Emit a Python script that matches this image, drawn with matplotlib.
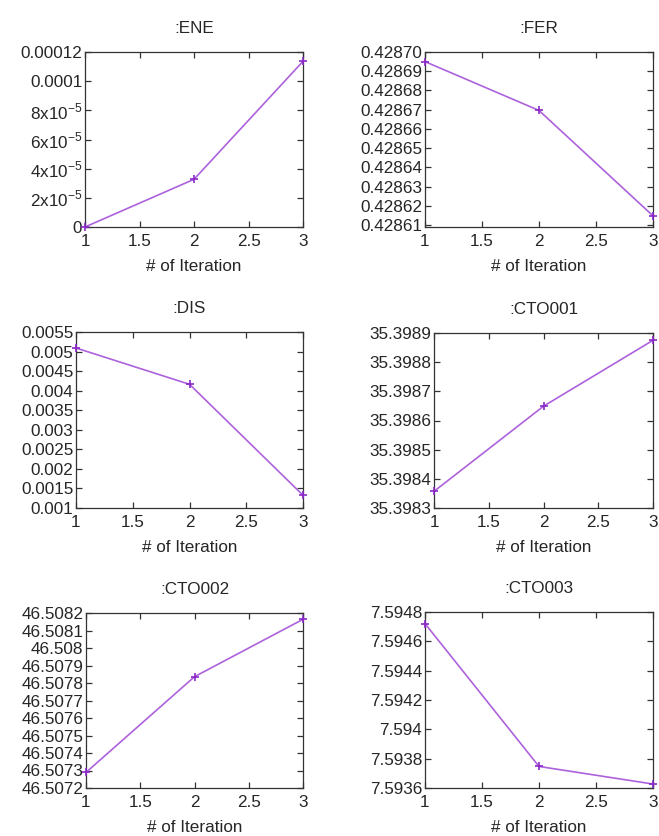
import matplotlib
matplotlib.use("Agg")
import matplotlib.pyplot as plt
from matplotlib.ticker import FixedLocator, FixedFormatter

plt.rcParams['font.family'] = ['Liberation Sans', 'DejaVu Sans']
plt.rcParams['mathtext.fontset'] = 'custom'
plt.rcParams['mathtext.rm'] = 'Liberation Sans'

iterations = [1, 2, 3]

titles = [":ENE", ":FER", ":DIS", ":CTO001", ":CTO002", ":CTO003"]

ene = [0.0, 3.27e-5, 1.136e-4]
fer = [0.428695, 0.4286696, 0.4286148]
dis = [0.005091, 0.004163, 0.001326]
cto001 = [35.398357, 35.398649, 35.398875]
cto002 = [46.507289, 46.507836, 46.508164]
cto003 = [7.594721, 7.593747, 7.593627]

ene_ticks = [0.0, 2e-5, 4e-5, 6e-5, 8e-5, 1e-4, 1.2e-4]
ene_labels = ["0", r"2x10$^{-5}$", r"4x10$^{-5}$", r"6x10$^{-5}$",
              r"8x10$^{-5}$", "0.0001", "0.00012"]
fer_ticks = [0.42861, 0.42862, 0.42863, 0.42864, 0.42865,
             0.42866, 0.42867, 0.42868, 0.42869, 0.42870]
fer_labels = ["%.5f" % v for v in fer_ticks]
dis_ticks = [0.001, 0.0015, 0.002, 0.0025, 0.003, 0.0035,
             0.004, 0.0045, 0.005, 0.0055]
dis_labels = ["%g" % v for v in dis_ticks]
cto001_ticks = [35.3983, 35.3984, 35.3985, 35.3986, 35.3987, 35.3988, 35.3989]
cto001_labels = ["%g" % v for v in cto001_ticks]
cto002_ticks = [46.5072, 46.5073, 46.5074, 46.5075, 46.5076, 46.5077,
                46.5078, 46.5079, 46.5080, 46.5081, 46.5082]
cto002_labels = ["%g" % v for v in cto002_ticks]
cto003_ticks = [7.5936, 7.5938, 7.5940, 7.5942, 7.5944, 7.5946, 7.5948]
cto003_labels = ["%g" % v for v in cto003_ticks]

x_ticks = [1, 1.5, 2, 2.5, 3]
x_labels = ["1", "1.5", "2", "2.5", "3"]

series = [ene, fer, dis, cto001, cto002, cto003]
yticks = [ene_ticks, fer_ticks, dis_ticks, cto001_ticks, cto002_ticks, cto003_ticks]
ylabels = [ene_labels, fer_labels, dis_labels, cto001_labels, cto002_labels, cto003_labels]
ylims = [(0.0, 1.2e-4), (0.428609, 0.42870), (0.001, 0.0055),
         (35.3983, 35.3989), (46.5072, 46.5082), (7.5936, 7.5948)]

W, H = 659, 836
# panel boxes in pixels: left, top, right, bottom
boxes = [(85, 52, 303, 227), (425, 52, 653, 227),
         (76, 332, 303, 508), (434, 333, 653, 508),
         (86, 613, 303, 788), (425, 612, 653, 788)]

fig = plt.figure(figsize=(W / 100, H / 100), dpi=100)
fig.patch.set_facecolor("white")

text_color = "#262626"
line_color = "#ad62dc"
mark_color = "#8a28c8"
fs = 12.3

for i in range(6):
    l, t, r, b = boxes[i]
    ax = fig.add_axes([l / W, 1 - b / H, (r - l) / W, (b - t) / H])
    ax.plot(iterations, series[i], color=line_color, lw=1.2,
            marker="+", ms=5.5, mew=1.2, mec=mark_color, clip_on=False, zorder=3)
    ax.set_xlim(1, 3)
    ax.set_ylim(*ylims[i])
    ax.xaxis.set_major_locator(FixedLocator(x_ticks))
    ax.xaxis.set_major_formatter(FixedFormatter(x_labels))
    ax.yaxis.set_major_locator(FixedLocator(yticks[i]))
    ax.yaxis.set_major_formatter(FixedFormatter(ylabels[i]))
    ax.tick_params(direction="in", length=4.5, width=0.9, color="#333333",
                   top=True, right=True, labelsize=fs, labelcolor=text_color)
    ax.tick_params(axis="y", pad=2)
    ax.tick_params(axis="x", pad=5)
    for s in ax.spines.values():
        s.set_color("#333333")
        s.set_linewidth(0.9)
    ax.set_title(titles[i], fontsize=fs, color=text_color, pad=14)
    ax.set_xlabel("# of Iteration", fontsize=fs, color=text_color, labelpad=7)

fig.savefig("out.png", dpi=100, facecolor="white")
